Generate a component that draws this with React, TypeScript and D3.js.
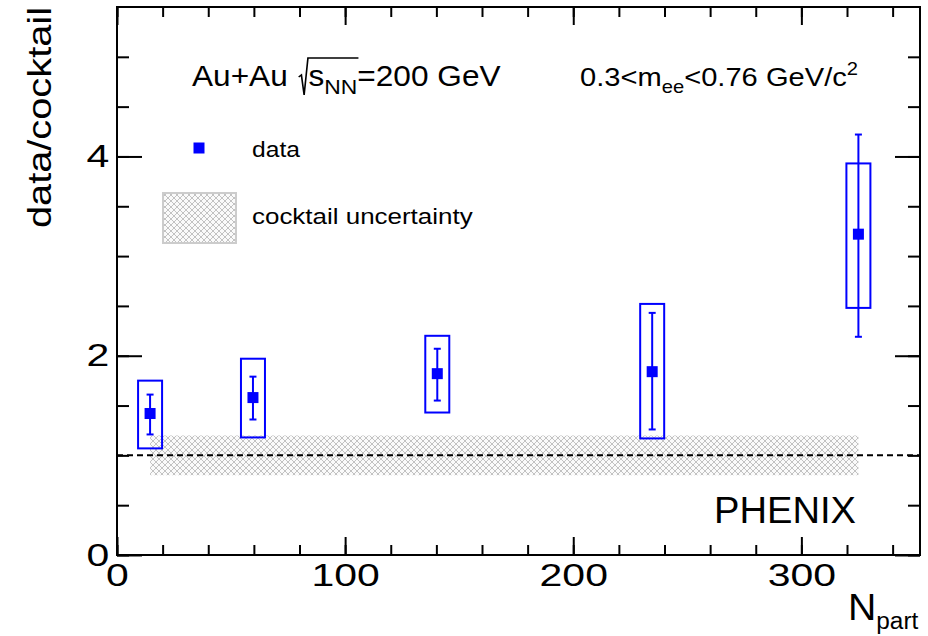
import React, { useEffect, useRef } from 'react';
import * as d3 from 'd3';

// PHENIX low-mass dielectron excess vs centrality
const npart = [14.5, 59.6, 140.4, 234.6, 325];
const ratio = [1.42, 1.58, 1.82, 1.84, 3.22];
const statLo = [1.21, 1.36, 1.55, 1.26, 2.19];
const statHi = [1.61, 1.79, 2.07, 2.43, 4.22];
const sysLo = [1.07, 1.18, 1.43, 1.17, 2.48];
const sysHi = [1.75, 1.97, 2.2, 2.52, 3.93];

// cocktail uncertainty band
const bandN = [14.5, 325];
const bandLo = [0.8, 0.8];
const bandHi = [1.2, 1.2];

const xMajor = [0, 100, 200, 300];
const yMajor = [0, 2, 4];

const left = 117;
const right = 920;
const top = 7;
const bottom = 555;
const FONT = '"Liberation Sans", Arial, Helvetica, sans-serif';
const BLUE = '#0000ff';

export default function App() {
  const svgRef = useRef<SVGSVGElement>(null);

  useEffect(() => {
    const svg = d3.select(svgRef.current);
    svg.selectAll('*').remove();

    const x = d3.scaleLinear().domain([0, 352]).range([left, right]);
    const y = d3.scaleLinear().domain([0, 5.5]).range([bottom, top]);

    const defs = svg.append('defs');
    const pat = defs
      .append('pattern')
      .attr('id', 'hatch')
      .attr('patternUnits', 'userSpaceOnUse')
      .attr('width', 6)
      .attr('height', 6);
    pat.append('rect').attr('width', 6).attr('height', 6).attr('fill', '#fafafa');
    pat
      .append('path')
      .attr('d', 'M0,0L6,6M6,0L0,6')
      .attr('stroke', '#c2c2c2')
      .attr('stroke-width', 1);

    // band
    const band = bandN.map((n, i) => ({ n, lo: bandLo[i], hi: bandHi[i] }));
    const area = d3
      .area<{ n: number; lo: number; hi: number }>()
      .x((d) => x(d.n))
      .y0((d) => y(d.lo))
      .y1((d) => y(d.hi));
    svg.append('path').attr('d', area(band)).attr('fill', 'url(#hatch)');

    // unity line
    svg
      .append('line')
      .attr('x1', x(0))
      .attr('x2', x(352))
      .attr('y1', y(1))
      .attr('y2', y(1))
      .attr('stroke', '#000')
      .attr('stroke-width', 2)
      .attr('stroke-dasharray', '6,4');

    const pts = npart.map((n, i) => ({
      n,
      v: ratio[i],
      sLo: statLo[i],
      sHi: statHi[i],
      yLo: sysLo[i],
      yHi: sysHi[i],
    }));

    // systematic boxes
    svg
      .selectAll('.sys')
      .data(pts)
      .join('rect')
      .attr('class', 'sys')
      .attr('x', (d) => x(d.n) - 12)
      .attr('width', 24)
      .attr('y', (d) => y(d.yHi))
      .attr('height', (d) => y(d.yLo) - y(d.yHi))
      .attr('fill', 'none')
      .attr('stroke', BLUE)
      .attr('stroke-width', 2);

    // stat error bars
    const eb = svg.selectAll('.err').data(pts).join('g').attr('class', 'err');
    eb.append('line')
      .attr('x1', (d) => x(d.n))
      .attr('x2', (d) => x(d.n))
      .attr('y1', (d) => y(d.sLo))
      .attr('y2', (d) => y(d.sHi))
      .attr('stroke', BLUE)
      .attr('stroke-width', 2);
    [(d) => d.sLo, (d) => d.sHi].forEach((f: any) => {
      eb.append('line')
        .attr('x1', (d) => x(d.n) - 3.5)
        .attr('x2', (d) => x(d.n) + 3.5)
        .attr('y1', (d) => y(f(d)))
        .attr('y2', (d) => y(f(d)))
        .attr('stroke', BLUE)
        .attr('stroke-width', 2);
    });

    svg
      .selectAll('.mk')
      .data(pts)
      .join('rect')
      .attr('class', 'mk')
      .attr('x', (d) => x(d.n) - 5.5)
      .attr('y', (d) => y(d.v) - 5.5)
      .attr('width', 11)
      .attr('height', 11)
      .attr('fill', BLUE);

    // axes (ROOT style, ticks inside on all four sides)
    const xMinor = d3.range(0, 341, 20);
    const yMinor = d3.range(0, 5.01, 0.5);
    const styleAxis = (g: any) => {
      g.select('.domain').remove();
      g.selectAll('.tick line').attr('stroke', '#000').attr('stroke-width', 2);
      g.attr('font-family', FONT).attr('font-size', 32);
      g.selectAll('.tick text').attr('fill', '#000').attr('transform', 'scale(1.28,1)');
    };
    const noLab = () => '';

    svg.append('g').attr('transform', `translate(0,${bottom})`)
      .call(d3.axisBottom(x).tickValues(xMinor).tickSize(-10).tickFormat(noLab)).call(styleAxis);
    svg.append('g').attr('transform', `translate(0,${bottom})`)
      .call(d3.axisBottom(x).tickValues(xMajor).tickSize(-18).tickPadding(8).tickFormat(d3.format('d'))).call(styleAxis);
    svg.append('g').attr('transform', `translate(0,${top})`)
      .call(d3.axisTop(x).tickValues(xMinor).tickSize(-10).tickFormat(noLab)).call(styleAxis);
    svg.append('g').attr('transform', `translate(0,${top})`)
      .call(d3.axisTop(x).tickValues(xMajor).tickSize(-18).tickFormat(noLab)).call(styleAxis);

    svg.append('g').attr('transform', `translate(${left},0)`)
      .call(d3.axisLeft(y).tickValues(yMinor).tickSize(-12).tickFormat(noLab)).call(styleAxis);
    svg.append('g').attr('transform', `translate(${left},0)`)
      .call(d3.axisLeft(y).tickValues(yMajor).tickSize(-25).tickPadding(6).tickFormat(d3.format('d'))).call(styleAxis);
    svg.append('g').attr('transform', `translate(${right},0)`)
      .call(d3.axisRight(y).tickValues(yMinor).tickSize(-12).tickFormat(noLab)).call(styleAxis);
    svg.append('g').attr('transform', `translate(${right},0)`)
      .call(d3.axisRight(y).tickValues(yMajor).tickSize(-25).tickFormat(noLab)).call(styleAxis);

    // frame
    svg
      .append('rect')
      .attr('x', left)
      .attr('y', top)
      .attr('width', right - left)
      .attr('height', bottom - top)
      .attr('fill', 'none')
      .attr('stroke', '#000')
      .attr('stroke-width', 2);

    const txt = svg.append('g').attr('font-family', FONT).attr('fill', '#000');
    // text in the reference is drawn slightly wide; stretch horizontally
    const wide = (tx: number, ty: number, sx: number, extra = '') =>
      txt.append('g').attr('transform', `translate(${tx},${ty}) ${extra} scale(${sx},1)`);

    // axis titles
    wide(51, 7, 1.17, 'rotate(-90)')
      .append('text')
      .attr('text-anchor', 'end')
      .attr('font-size', 34)
      .text('data/cocktail');
    const nt = wide(848, 620, 1.06).append('text').attr('font-size', 37);
    nt.append('tspan').text('N');
    nt.append('tspan').attr('font-size', 23).attr('dy', 9).text('part');

    // title with sqrt(s_NN)
    const tg = wide(192, 86, 1.09);
    const t1 = tg.append('text').attr('font-size', 29).text('Au+Au');
    const w1 = (t1.node() as SVGTextElement).getComputedTextLength();
    const rx = w1 + 10;
    const t2 = tg.append('text').attr('x', rx + 9).attr('font-size', 29);
    t2.append('tspan').text('s');
    t2.append('tspan').attr('font-size', 21).attr('dy', 8).text('NN');
    t2.append('tspan').attr('dy', -8).text('=200 GeV');
    const endNN = (t2.node() as SVGTextElement).getEndPositionOfChar(2).x;
    tg.append('path')
      .attr('d', `M${rx},-9L${rx + 2.5},-11L${rx + 5},9L${rx + 8.5},-28H${endNN + 1}`)
      .attr('fill', 'none')
      .attr('stroke', '#000')
      .attr('stroke-width', 1.5);

    const t3 = wide(580, 86, 1.12).append('text').attr('font-size', 26);
    t3.append('tspan').text('0.3<m');
    t3.append('tspan').attr('font-size', 18).attr('dy', 7).text('ee');
    t3.append('tspan').attr('dy', -7).text('<0.76 GeV/c');
    t3.append('tspan').attr('font-size', 18).attr('dy', -11).text('2');

    // legend
    svg.append('rect').attr('x', 193.5).attr('y', 142.5).attr('width', 11).attr('height', 11).attr('fill', BLUE);
    wide(252, 157, 1.12).append('text').attr('font-size', 22).text('data');
    svg
      .append('rect')
      .attr('x', 163)
      .attr('y', 193)
      .attr('width', 73)
      .attr('height', 50)
      .attr('fill', 'url(#hatch)')
      .attr('stroke', '#cccccc')
      .attr('stroke-width', 2);
    wide(252, 224, 1.18).append('text').attr('font-size', 22).text('cocktail uncertainty');

    wide(714, 523, 1.06).append('text').attr('font-size', 36).text('PHENIX');
  }, []);

  return (
    <svg
      ref={svgRef}
      width={928}
      height={636}
      style={{ position: 'absolute', left: 0, top: 0, background: '#fff' }}
    />
  );
}
